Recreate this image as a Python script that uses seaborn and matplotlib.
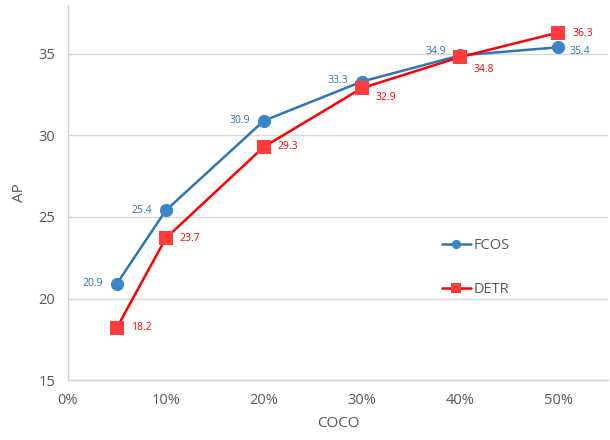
import pandas as pd
import matplotlib.pyplot as plt
import seaborn as sns
from matplotlib.ticker import FuncFormatter

# dados
coco = [5, 10, 20, 30, 40, 50]
fcos = [20.9, 25.4, 30.9, 33.3, 34.9, 35.4]
detr = [18.2, 23.7, 29.3, 32.9, 34.8, 36.3]

df = pd.DataFrame({
    'COCO': coco * 2,
    'AP': fcos + detr,
    'Modelo': ['FCOS'] * len(coco) + ['DETR'] * len(coco),
})

sns.set_theme(style='white')
plt.rcParams['font.family'] = ['Open Sans', 'DejaVu Sans']

cinza = '#595959'
cores = {'FCOS': '#2E75B6', 'DETR': '#FF0000'}

fig, ax = plt.subplots(figsize=(6.1, 4.4), dpi=100)
fig.subplots_adjust(left=0.111, right=0.997, bottom=0.136, top=0.989)

ax = sns.lineplot(data=df, x='COCO', y='AP', hue='Modelo', style='Modelo',
                  palette=cores, markers={'FCOS': 'o', 'DETR': 's'}, dashes=False,
                  lw=1.8, markersize=9.5, markeredgewidth=0, ax=ax)

# cor dos marcadores um pouco mais clara
for ln in ax.lines:
    if ln.get_color() in ('#FF0000', '#ff0000'):
        ln.set_markerfacecolor('#FF3B3B')
    else:
        ln.set_markerfacecolor('#3A86C8')

# rotulos dos pontos
off_fcos = [(-10, 0), (-10, 0), (-10, 0), (-10, 1), (-10, 3), (8, -3)]
for x, y, o in zip(coco, fcos, off_fcos):
    ha = 'right' if o[0] < 0 else 'left'
    ax.annotate(f'{y:.1f}', (x, y), xytext=o, textcoords='offset points',
                ha=ha, va='center', fontsize=7.5, color='#2E75B6')

off_detr = [(10, 0), (10, 0), (10, 0), (10, -7), (10, -9), (10, -1)]
for x, y, o in zip(coco, detr, off_detr):
    ax.annotate(f'{y:.1f}', (x, y), xytext=o, textcoords='offset points',
                ha='left', va='center', fontsize=7.5, color='#FF0000')

ax.set_xlim(0, 55.1)
ax.set_ylim(15, 38)
ax.set_xticks([0, 10, 20, 30, 40, 50])
ax.set_yticks([15, 20, 25, 30, 35])
ax.xaxis.set_major_formatter(FuncFormatter(lambda v, p: f'{v:.0f}%'))

ax.grid(axis='y', color='#D9D9D9', lw=1)
ax.set_axisbelow(True)
for s in ['top', 'right']:
    ax.spines[s].set_visible(False)
for s in ['left', 'bottom']:
    ax.spines[s].set_color('#D0D0D0')
    ax.spines[s].set_linewidth(1)

ax.tick_params(axis='both', colors=cinza, labelsize=10.5, length=0, pad=9)
ax.set_xlabel('COCO', fontsize=11, color=cinza, labelpad=6)
ax.set_ylabel('AP', fontsize=11, color=cinza, labelpad=8)

ax.legend(title=None, frameon=False, loc='center left', bbox_to_anchor=(0.668, 0.30),
          fontsize=10.5, labelspacing=2.0, handlelength=2.0, handletextpad=0.2,
          markerscale=0.7, labelcolor=cinza)

plt.savefig('out.png', dpi=100)
